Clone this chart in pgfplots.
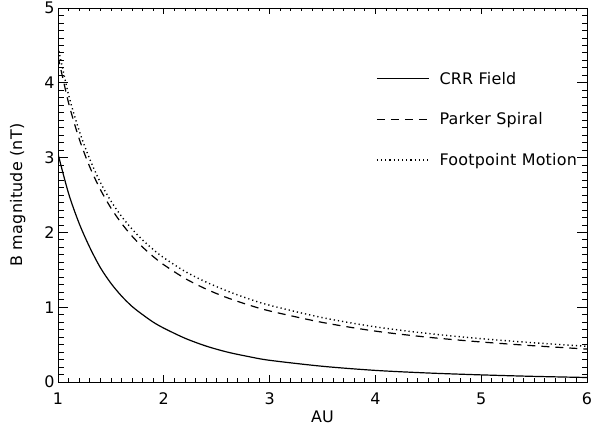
\documentclass[border=0pt]{standalone}
\usepackage{fontspec}
\setmainfont{DejaVu Sans}[LetterSpace=1.5]
\usepackage{pgfplots}
\pgfplotsset{compat=1.18}
\begin{document}
\begin{tikzpicture}
\begin{axis}[
  at={(0,0)}, anchor=south west,
  scale only axis,
  width=529bp, height=374bp,
  xmin=1, xmax=6, ymin=0, ymax=5,
  xtick={1,2,3,4,5,6}, ytick={0,1,2,3,4,5},
  minor x tick num=9, minor y tick num=9,
  tick align=inside,
  major tick length=10bp, minor tick length=5.5bp,
  xtick style={/pgfplots/major tick length=6.5bp, /pgfplots/minor tick length=3.5bp},
  axis line style={line width=0.9bp},
  every tick/.style={black, line width=0.8bp},
  tick label style={font=\fontsize{16}{19}\selectfont},
  label style={font=\fontsize{16}{19}\selectfont},
  /pgf/number format/assume math mode=true,
  xticklabel style={yshift=-7bp},
  xlabel={AU},
  ylabel={B magnitude (nT)},
  xlabel style={at={(axis description cs:0.5,-0.094)}, anchor=center},
  ylabel style={at={(axis description cs:-0.076,0.5)}, anchor=center},
  legend cell align=left,
  legend style={draw=none, fill=none, at={(axis description cs:0.601,0.835)},
    anchor=north west, inner sep=0pt, row sep=23bp,
    font=\fontsize{16}{19}\selectfont,
    /tikz/every odd column/.append style={column sep=8bp}},
  legend image code/.code={\draw[#1] (0bp,0bp) -- (52bp,0bp);},
]
% CRR field
\addplot[black, line width=1.2bp, smooth] coordinates {
  (1.0,3.05) (1.1,2.52) (1.2,2.12) (1.3,1.80) (1.4,1.53) (1.5,1.32)
  (1.6,1.15) (1.7,1.01) (1.8,0.90) (1.9,0.80) (2.0,0.72) (2.2,0.585)
  (2.4,0.48) (2.6,0.40) (2.8,0.34) (3.0,0.29) (3.5,0.21) (4.0,0.155)
  (4.5,0.12) (5.0,0.095) (5.5,0.075) (6.0,0.06)
};
\addlegendentry{CRR Field}
% Parker spiral
\addplot[black, line width=1.2bp, smooth, dash pattern=on 8bp off 6bp] coordinates {
  (1.0,4.353) (1.1,3.731) (1.2,3.252) (1.3,2.876) (1.4,2.574) (1.5,2.327)
  (1.6,2.122) (1.7,1.950) (1.8,1.803) (1.9,1.677) (2.0,1.567) (2.2,1.385)
  (2.4,1.242) (2.6,1.126) (2.8,1.031) (3.0,0.950) (3.5,0.796) (4.0,0.680)
  (4.5,0.598) (5.0,0.535) (5.5,0.484) (6.0,0.440)
};
\addlegendentry{Parker Spiral}
% footpoint motion
\addplot[black, line width=1.4bp, smooth, dash pattern=on 1.2bp off 3bp] coordinates {
  (1.0,4.48) (1.1,3.84) (1.2,3.36) (1.3,2.98) (1.4,2.67) (1.5,2.42)
  (1.6,2.215) (1.7,2.044) (1.8,1.897) (1.9,1.771) (2.0,1.661) (2.2,1.479)
  (2.4,1.336) (2.6,1.216) (2.8,1.113) (3.0,1.026) (3.5,0.860) (4.0,0.737)
  (4.5,0.648) (5.0,0.579) (5.5,0.524) (6.0,0.477)
};
\addlegendentry{Footpoint Motion}
\end{axis}
\pgfresetboundingbox
\path ([shift={(-58bp,-49bp)}]current axis.south west) rectangle ([shift={(14bp,8bp)}]current axis.north east);
\end{tikzpicture}
\end{document}
